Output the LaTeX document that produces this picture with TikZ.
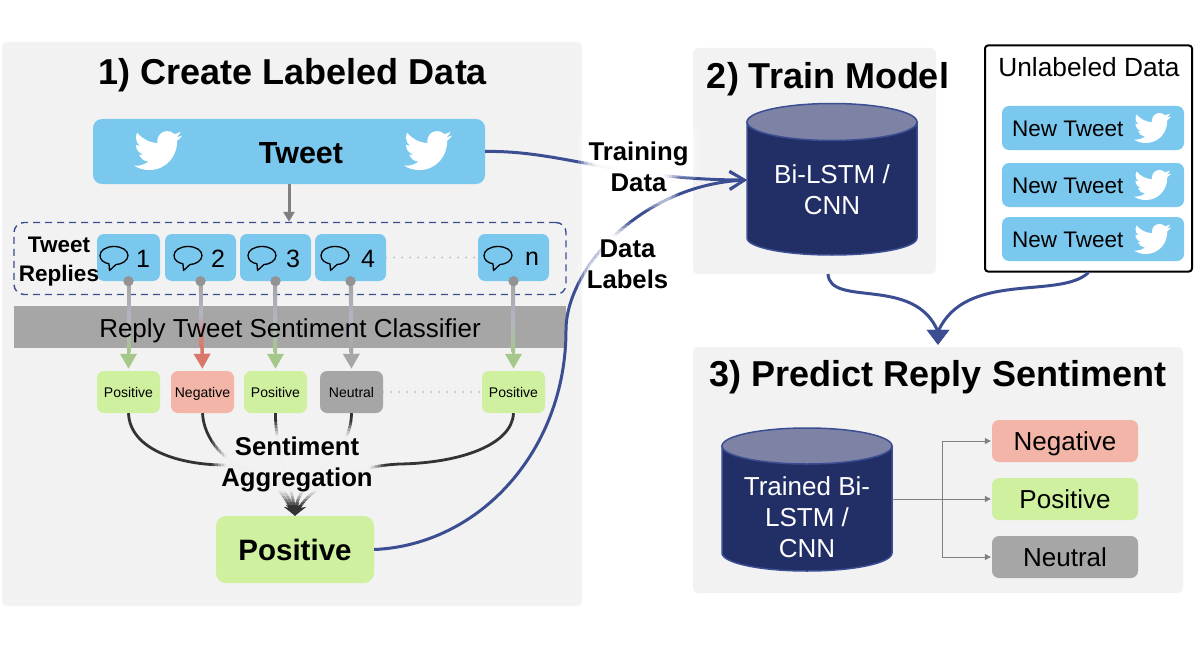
\documentclass[tikz,border=0pt]{standalone}
\usepackage{fontspec}
\setmainfont{Liberation Sans}
\usetikzlibrary{arrows.meta,calc}
\newcommand{\fsz}[2]{\fontsize{#1}{#2}\selectfont}
\definecolor{panelgray}{HTML}{F2F2F2}
\definecolor{twblue}{HTML}{7BC8EF}
\definecolor{posgreen}{HTML}{CFF09E}
\definecolor{neggred}{HTML}{F2B5A7}
\definecolor{neugray}{HTML}{A6A6A6}
\definecolor{navybody}{HTML}{222F66}
\definecolor{navytop}{HTML}{7E83A5}
\definecolor{navyline}{HTML}{3B4E92}
\definecolor{darkline}{HTML}{333333}
\definecolor{arrgreen}{HTML}{A5C88A}
\definecolor{arrred}{HTML}{D9786A}
\definecolor{arrgray}{HTML}{A6A6A6}
\definecolor{stemmid}{HTML}{B4B4C4}
\newcommand{\softhalo}[5]{%
  \foreach \e/\o in {14/.18,11/.25,8/.35,5/.45,2/.6,0/.9}{
    \fill[#5,opacity=\o,rounded corners=10pt] (#1-\e,#2-\e) rectangle (#3+\e,#4+\e);
  }}
\tikzset{
  panel/.style={fill=panelgray,rounded corners=5pt,inner sep=0pt},
  rbox/.style={rounded corners=7pt,inner sep=0pt,align=center,text=black},
  tweetbox/.style={rbox,fill=twblue},
  posbox/.style={rbox,fill=posgreen},
  negbox/.style={rbox,fill=neggred},
  neubox/.style={rbox,fill=neugray},
  smallsent/.style={minimum width=63pt,minimum height=42pt,font=\fsz{14}{16},text height=10pt,text depth=0pt},
  replybox/.style={tweetbox,minimum height=47pt},
  newtweet/.style={tweetbox,minimum width=182pt,minimum height=44pt},
  outbox/.style={minimum width=146pt,minimum height=42pt,font=\fsz{26}{28},text height=19pt,text depth=0pt},
  titletext/.style={font=\bfseries\fsz{36}{38},inner sep=0pt,text height=26pt,text depth=0pt},
  boldlabel/.style={font=\bfseries\fsz{25.7}{31},align=center,inner sep=0pt},
  replynum/.style={font=\fsz{25}{28},inner sep=0pt},
  dotlink/.style={draw=gray!55,line width=2pt,line cap=round,dash pattern=on 0pt off 8pt},
  stem/.style={line width=3.5pt},
  sentarrow/.style={stem,-{Triangle[length=15pt,width=16pt]},shorten >=2pt},
  graydot/.style={circle,fill=gray!85,minimum size=10pt,inner sep=0pt},
  agg/.style={draw=darkline,line width=2.8pt,-{Stealth[length=13pt,width=11pt]}},
  bluecurve/.style={draw=navyline,line width=3pt},
  treeline/.style={draw=gray,line width=1pt},
  treearrow/.style={treeline,-{Triangle[length=6pt,width=6pt]},shorten >=1pt},
  cylbody/.style={fill=navybody,draw=navyline,line width=1.5pt},
  cyltop/.style={fill=navytop,draw=navyline,line width=1.5pt},
  cyltext/.style={text=white,font=\fsz{26}{31},align=center,inner sep=0pt},
  pics/birdicon/.style={code={
    \fill[white] (23.95,4.57) .. controls (23.07,4.96) and (22.12,5.22) .. (21.13,5.35)
      .. controls (22.14,4.74) and (22.93,3.78) .. (23.29,2.62)
      .. controls (22.34,3.18) and (21.29,3.58) .. (20.16,3.81)
      .. controls (19.27,2.86) and (18.0,2.26) .. (16.57,2.26)
      .. controls (13.85,2.26) and (11.66,4.46) .. (11.66,7.18)
      .. controls (11.66,7.56) and (11.70,7.94) .. (11.78,8.29)
      .. controls (7.69,8.095) and (4.067,6.13) .. (1.64,3.162)
      .. controls (1.22,3.88) and (0.974,4.73) .. (0.974,5.637)
      .. controls (0.974,7.347) and (1.844,8.85) .. (3.162,9.733)
      .. controls (2.36,9.71) and (1.60,9.49) .. (0.934,9.117)
      -- (0.934,9.177)
      .. controls (0.934,11.56) and (2.63,13.55) .. (4.88,14.004)
      .. controls (4.17,14.2) and (3.41,14.23) .. (2.668,14.089)
      .. controls (3.29,16.04) and (5.10,17.46) .. (7.272,17.506)
      .. controls (5.58,18.83) and (3.45,19.61) .. (1.17,19.611)
      .. controls (0.78,19.611) and (0.39,19.588) .. (0,19.544)
      .. controls (2.18,20.94) and (4.77,21.753) .. (7.557,21.753)
      .. controls (16.61,21.753) and (21.555,14.257) .. (21.555,7.768)
      .. controls (21.555,7.558) and (21.555,7.348) .. (21.54,7.138)
      .. controls (22.5,6.44) and (23.33,5.57) .. (24,4.59) -- cycle;
  }},
  pics/bubbleicon/.style={code={
    \draw[black,line width=1.3pt,line join=round] (-4.5,15) -- (-5,8.3)
      .. controls (-10,7.5) and (-14,4.5) .. (-14,0)
      .. controls (-14,-5.5) and (-7.5,-9) .. (0,-9)
      .. controls (7.5,-9) and (14,-5.5) .. (14,0)
      .. controls (14,5.5) and (7,9) .. (2,9) -- cycle;
  }}
}
\begin{document}
\begin{tikzpicture}[x=1pt,y=-1pt]
\useasboundingbox (0,0) rectangle (1196,650);
\fill[white] (0,0) rectangle (1196,650);
% panels
\node[panel,minimum width=580pt,minimum height=564pt] (panelA) at (292,324) {};
\node[panel,minimum width=243pt,minimum height=226pt] (panelB) at (814.5,161) {};
\node[panel,minimum width=490pt,minimum height=246pt] (panelC) at (938,470) {};
\node[draw=black,fill=white,line width=2pt,rounded corners=3pt,inner sep=0pt,minimum width=207pt,minimum height=226pt] (unlab) at (1088.5,158.5) {};
% titles
\node[titletext] (t1) at (293,72) {1) Create Labeled Data};
\node[titletext] (t2) at (828,76) {2) Train Model};
\node[titletext] (t3) at (938,373) {3) Predict Reply Sentiment};
% tweet
\node[tweetbox,minimum width=392pt,minimum height=65pt,rounded corners=9pt] (tweet) at (289,151.5) {};
\node[font=\bfseries\fsz{30.5}{32},inner sep=0pt,text height=22pt,text depth=0pt] (tweetlabel) at (301,152) {Tweet};
\pic[scale=2] at (134,126.5) {birdicon};
\pic[scale=2] at (404,126.5) {birdicon};
% reply group
\node[draw=navyline,dash pattern=on 7pt off 5pt,line width=1.4pt,rounded corners=10pt,inner sep=0pt,minimum width=552pt,minimum height=72pt] (group) at (290,258.5) {};
\draw[draw=gray,line width=3pt,-{Triangle[length=10pt,width=11pt]}] (tweet.south) -- (tweet.south |- group.north);
\node[replybox,minimum width=63pt] (r1) at (128.5,257.5) {};
\node[replybox,minimum width=71pt] (r2) at (200.5,257.5) {};
\node[replybox,minimum width=71pt] (r3) at (275.5,257.5) {};
\node[replybox,minimum width=71pt] (r4) at (350.5,257.5) {};
\node[replybox,minimum width=71pt] (rn) at (513.5,257.5) {};
\draw[dotlink] (r4.east) -- (rn.west);
\pic at (114,255.5) {bubbleicon};
\pic at (188,255.5) {bubbleicon};
\pic at (262,255.5) {bubbleicon};
\pic at (335,255.5) {bubbleicon};
\pic at (498,255.5) {bubbleicon};
\node[replynum] (n1) at (143,259) {1};
\node[replynum] (n2) at (218,259) {2};
\node[replynum] (n3) at (293,259) {3};
\node[replynum] (n4) at (368,259) {4};
\node[replynum] (nn) at (532,259) {n};
\node[font=\bfseries\fsz{22.5}{29},align=center,inner sep=0pt] (replieslabel) at (59,261.5) {Tweet\\Replies};
% classifier bar
\node[fill=neugray,inner sep=0pt,minimum width=552pt,minimum height=42pt] (bar) at (290,327) {};
% sentiment boxes
\node[posbox,smallsent] (s1) at (128.5,392) {Positive};
\node[negbox,smallsent] (s2) at (202.5,392) {Negative};
\node[posbox,smallsent] (s3) at (275.5,392) {Positive};
\node[neubox,smallsent] (s4) at (351.5,392) {Neutral};
\node[posbox,smallsent] (sn) at (513.5,392) {Positive};
\draw[dotlink] (s4.east) -- (sn.west);
% reply to sentiment arrows
\node[graydot] (d1) at (r1.south) {};
\node[graydot] (d2) at (r2.south) {};
\node[graydot] (d3) at (r3.south) {};
\node[graydot] (d4) at (r4.south) {};
\node[graydot] (dn) at (rn.south) {};
\draw[sentarrow,arrgreen] (d1.center) -- (s1.north);
\draw[sentarrow,arrred] (d2.center) -- (s2.north);
\draw[sentarrow,arrgreen] (d3.center) -- (s3.north);
\draw[sentarrow,arrgray] (d4.center) -- (s4.north);
\draw[sentarrow,arrgreen] (dn.center) -- (sn.north);
\shade[top color=gray!70,bottom color=arrgreen,middle color=stemmid] (127,284) rectangle (130.5,352);
\shade[top color=gray!70,bottom color=arrred,middle color=stemmid] (199,284) rectangle (202.5,345);
\shade[top color=gray!70,bottom color=arrgreen,middle color=stemmid] (273.5,284) rectangle (277,352);
\shade[top color=gray!70,bottom color=arrgray,middle color=stemmid] (349.5,284) rectangle (353,352);
\shade[top color=gray!70,bottom color=arrgreen,middle color=stemmid] (511.5,284) rectangle (515,352);
\node[graydot] at (r1.south) {};
\node[graydot] at (r2.south) {};
\node[graydot] at (r3.south) {};
\node[graydot] at (r4.south) {};
\node[graydot] at (rn.south) {};
\node[font=\fsz{26}{28},inner sep=0pt,text height=19pt,text depth=0pt] (barlabel) at (290,328) {Reply Tweet Sentiment Classifier};
% final
\node[posbox,minimum width=158pt,minimum height=67pt,rounded corners=10pt,font=\bfseries\fsz{29.5}{32},text height=21pt,text depth=0pt] (big) at (295,549.5) {Positive};
% aggregation curves
\draw[agg] (s1.south) .. controls (130,450) and (180,465) .. (225,465) .. controls (262,466) and (280,488) .. (big.north);
\draw[agg] (s2.south) .. controls (204,440) and (225,462) .. (250,470) .. controls (275,478) and (288,492) .. (big.north);
\draw[agg] (s3.south) .. controls (275,450) and (292,485) .. (big.north);
\draw[agg] (s4.south) .. controls (351,460) and (300,475) .. (big.north);
\draw[agg] (sn.south) .. controls (512,445) and (460,463) .. (400,464) .. controls (350,466) and (310,488) .. (big.north);
\softhalo{226}{436}{370}{491}{panelgray}
\node[boldlabel] (agglabel) at (297,464) {Sentiment\\Aggregation};
% cylinder 1
\fill[cylbody] (747,122) -- (747,238) arc[start angle=180,end angle=360,x radius=85,y radius=-17] -- (917,122) -- cycle;
\draw[cyltop] (832,122) ellipse[x radius=85,y radius=18.5];
\node[cyltext,minimum width=170pt,minimum height=120pt] (cyl1) at (832,190) {Bi-LSTM /\\CNN};
\coordinate (cyl1in) at (747,180);
% cylinder 2
\fill[cylbody] (722,446) -- (722,553) arc[start angle=180,end angle=360,x radius=85,y radius=-18] -- (892,446) -- cycle;
\draw[cyltop] (807,446) ellipse[x radius=85,y radius=18];
\node[cyltext] (cyl2) at (807,517) {Trained Bi-\\LSTM /\\CNN};
\coordinate (cyl2out) at (892,499);
% outputs
\node[negbox,outbox] (oneg) at (1065,441) {Negative};
\node[posbox,outbox] (opos) at (1065,499) {Positive};
\node[neubox,outbox] (oneu) at (1065,557) {Neutral};
\coordinate (fork) at (942,499);
\draw[treearrow] (cyl2out) -- (opos.west);
\draw[treearrow] (fork) |- (oneg.west);
\draw[treearrow] (fork) |- (oneu.west);
% unlabeled
\node[font=\fsz{26.3}{27},inner sep=0pt,text height=19pt,text depth=0pt] (unlabt) at (1089,67) {Unlabeled Data};
\node[newtweet] (nt1) at (1093,128) {};
\node[newtweet] (nt2) at (1093,185) {};
\node[newtweet] (nt3) at (1093,239) {};
\node[font=\fsz{22.5}{25},inner sep=0pt,anchor=west,text height=16pt,text depth=0pt] at (1012,128) {New Tweet};
\node[font=\fsz{22.5}{25},inner sep=0pt,anchor=west,text height=16pt,text depth=0pt] at (1012,185) {New Tweet};
\node[font=\fsz{22.5}{25},inner sep=0pt,anchor=west,text height=16pt,text depth=0pt] at (1012,239) {New Tweet};
\pic[scale=1.54] at (1134,109.5) {birdicon};
\pic[scale=1.54] at (1134,166.5) {birdicon};
\pic[scale=1.54] at (1134,220.5) {birdicon};
% blue connectors
\draw[bluecurve,-{Straight Barb[length=15pt,width=18pt,line width=2.5pt]}] (tweet.east) .. controls (560,150) and (620,180) .. (cyl1in);
\draw[bluecurve,-{Straight Barb[length=15pt,width=18pt,line width=2.5pt]}] (big.east) .. controls (480,545) and (566,450) .. (566,330) .. controls (566,270) and (640,185) .. (cyl1in);
\softhalo{592}{137}{686}{166}{white}
\softhalo{608}{168}{664}{196}{white}
\softhalo{604}{236}{652}{262}{white}
\softhalo{592}{266}{666}{292}{white}
\node[boldlabel] (trainlabel) at (638.5,166.5) {Training\\Data};
\node[boldlabel] (datalabel) at (627.5,264) {Data\\Labels};
\coordinate (trainout) at (828,274);
\coordinate (mergepoint) at ($(panelC.north)+(0,-15)$);
\draw[bluecurve,-{Triangle[length=15pt,width=22pt]},shorten >=2pt] (trainout) .. controls (830,308) and (915,275) .. (mergepoint) -- (panelC.north);
\draw[bluecurve,-{Triangle[length=15pt,width=22pt]},shorten >=2pt] (unlab.south) .. controls (1060,300) and (965,270) .. (mergepoint) -- (panelC.north);
\end{tikzpicture}
\end{document}
